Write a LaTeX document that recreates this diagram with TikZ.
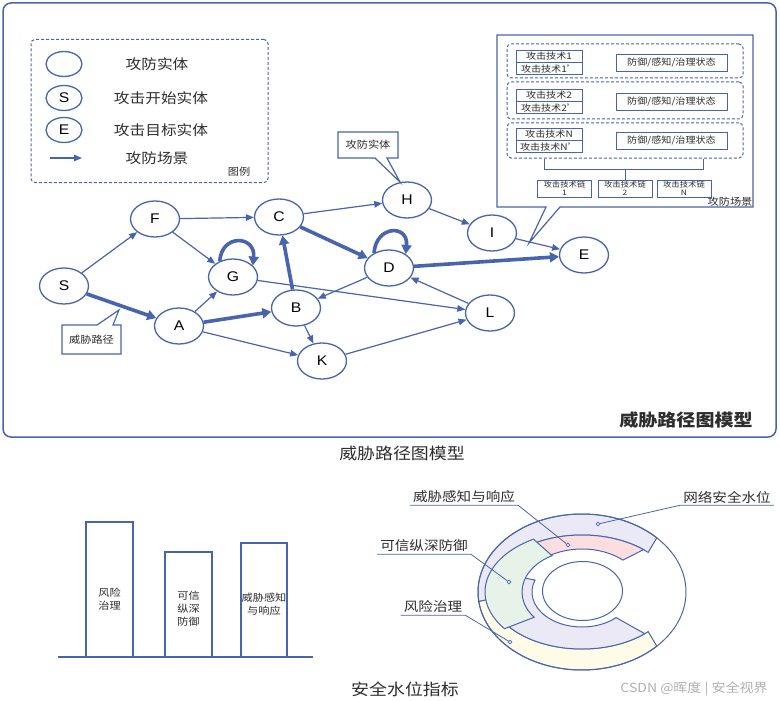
\documentclass[tikz,border=0pt]{standalone}
\usepackage{fontspec}
\setmainfont{Liberation Sans}[FakeStretch=1.12]
\newfontfamily\cjk{Noto Sans CJK SC}[FakeStretch=1.12]
\definecolor{pathblue}{RGB}{72,100,172}
\definecolor{inktext}{RGB}{45,45,45}
\definecolor{ringlav}{RGB}{236,233,246}
\definecolor{ringpink}{RGB}{252,222,224}
\definecolor{ringgreen}{RGB}{231,243,233}
\definecolor{ringyellow}{RGB}{254,251,230}
\definecolor{markgray}{RGB}{175,175,175}
\usepackage{tikz}
\usetikzlibrary{arrows.meta,positioning,shapes.geometric,calc}

\tikzset{
  entity/.style={ellipse,draw=pathblue,line width=1.3pt,fill=white,
    minimum width=49pt,minimum height=36pt,inner sep=0pt,
    font=\fontsize{14}{14}\selectfont,text=black},
  link/.style={draw=pathblue,line width=1.2pt,-{Triangle[length=8pt,width=6.5pt]}},
  threat/.style={draw=pathblue,line width=3.6pt,-{Triangle[length=9pt,width=10pt]}},
  callout/.style={draw=pathblue,line width=1.2pt,fill=white},
  dashbox/.style={draw=pathblue,line width=1pt,dash pattern=on 3pt off 2pt,rounded corners=4pt},
  cell/.style={draw=pathblue,line width=0.8pt,inner sep=0pt,text=inktext,
    font=\cjk\fontsize{9}{9}\selectfont},
  lbl/.style={font=\cjk\fontsize{14}{14}\selectfont,text=inktext},
  note/.style={font=\cjk\fontsize{10}{10}\selectfont,text=inktext},
  bar/.style={draw=pathblue,line width=1.5pt,fill=white},
  barlbl/.style={font=\cjk\fontsize{10}{13}\selectfont,text=inktext,align=center},
  ringline/.style={draw=pathblue,line width=1pt},
  ringlabel/.style={font=\cjk\fontsize{13}{13}\selectfont,text=inktext,inner xsep=3pt,inner ysep=2pt},
  leader/.style={draw=pathblue,line width=0.8pt},
  pin/.style={circle,draw=pathblue,line width=0.7pt,fill=white,inner sep=0pt,minimum size=3.6pt},
}

% band between two ellipses round (rc): fill, rx/ry outer, rx/ry inner, from, to
\newcommand{\ringband}[7]{%
  \filldraw[fill=#1,ringline] ($(rc)+(#6:#2 and #3)$)
    arc[start angle=#6,end angle=#7,x radius=#2,y radius=#3]
    -- ($(rc)+(#7:#4 and #5)$)
    arc[start angle=#7,end angle=#6,x radius=#4,y radius=#5] -- cycle;}

\begin{document}
\begin{tikzpicture}[x=1pt,y=-1pt]
  \useasboundingbox (0,0) rectangle (780,701);

  % outer frame of the graph model
  \draw[pathblue,line width=1.5pt,rounded corners=8pt] (3,3) rectangle (776,437);
  \node[font=\cjk\bfseries\fontsize{17}{17}\selectfont,text=inktext] (title) at (686,420) {威胁路径图模型};

  % legend
  \node[dashbox,minimum width=237pt,minimum height=143pt] (legend) at (149.5,111) {};
  \node[entity,minimum width=36pt,minimum height=25pt] (legent) at (64,64) {};
  \node[lbl] at (157,64) {攻防实体};
  \node[entity,minimum width=36pt,minimum height=25pt] (legS) at (64,98) {S};
  \node[lbl] at (161,98) {攻击开始实体};
  \node[entity,minimum width=36pt,minimum height=25pt] (legE) at (64,130) {E};
  \node[lbl] at (161,130) {攻击目标实体};
  \coordinate (legA1) at (50,158);
  \coordinate (legA2) at (82,158);
  \draw[link] (legA1) -- (legA2);
  \node[lbl] at (157,158) {攻防场景};
  \node[note] at (239,172) {图例};

  % entities
  \node[entity] (S) at (64,286) {S};
  \node[entity] (F) at (155,219) {F};
  \node[entity] (G) at (233,277) {G};
  \node[entity] (C) at (279,217) {C};
  \node[entity] (A) at (179,326) {A};
  \node[entity] (B) at (296,308) {B};
  \node[entity] (K) at (322,361) {K};
  \node[entity] (D) at (389,268) {D};
  \node[entity] (H) at (407,200) {H};
  \node[entity] (I) at (492,233) {I};
  \node[entity] (E) at (584,255) {E};
  \node[entity] (L) at (490,313) {L};

  % scenes
  \draw[link] (S) -- (F);
  \draw[link] (F) -- (C);
  \draw[link] (F) -- (G);
  \draw[link] (A) -- (G);
  \draw[link] (A) -- (K);
  \draw[link] (G) -- (L);
  \draw[link] (B) -- (K);
  \draw[link] (C) -- (H);
  \draw[link] (D) -- (B);
  \draw[link] (L) -- (D);
  \draw[link] (K) -- (L);
  \draw[link] (H) -- (I);
  \draw[link] (I) -- (E);
  % threat path
  \draw[threat] (S) -- (A);
  \draw[threat] (A) -- (B);
  \draw[threat] (B) -- (C);
  \draw[threat] (C) -- (D);
  \draw[threat] (D) -- (E);
  \draw[threat] (G.130) .. controls +(2,-28) and +(3,-30) .. (G.30);
  \draw[threat] (D.135) .. controls +(2,-28) and +(3,-30) .. (D.40);

  % callouts
  \draw[callout] (62,325) -- (97,325) -- (119,310) -- (113,325) -- (121,325)
    -- (121,354) -- (62,354) -- cycle;
  \node[note] (pathnote) at (91.5,339.5) {威胁路径};
  \draw[callout] (338,132) -- (398,132) -- (398,158) -- (387,158) -- (400,182)
    -- (375,158) -- (338,158) -- cycle;
  \node[note] (entnote) at (368,145) {攻防实体};

  % scene callout
  \draw[callout] (497,35) -- (753,35) -- (753,207) -- (560,207) -- (529,243)
    -- (546,207) -- (497,207) -- cycle;
  \node[dashbox,minimum width=236pt,minimum height=34pt] (row1) at (625,61) {};
  \node[dashbox,minimum width=236pt,minimum height=37pt] (row2) at (625,100.5) {};
  \node[dashbox,minimum width=236pt,minimum height=35pt] (row3) at (625,140.5) {};
  \foreach \k/\y/\n in {1/56/1,2/95/2,3/134/N}{
    \node[cell,minimum width=66pt,minimum height=12pt] (tech\k) at (549,\y) {攻击技术\n};
    \node[cell,minimum width=66pt,minimum height=12pt,below=0pt of tech\k] (techb\k) {攻击技术\n’};
    \node[cell,minimum width=111pt,minimum height=17pt] (state\k) at (671.5,\y+6.5) {防御/感知/治理状态};
  }
  \foreach \k/\x/\n in {1/564.5/1,2/625/2,3/684/N}
    \node[cell,font=\cjk\fontsize{7.5}{8}\selectfont,align=center,
      minimum width=54pt,minimum height=17pt] (chain\k) at (\x,188.5) {攻击技术链\\\n};
  \draw[pathblue,line width=0.8pt] ([xshift=38pt]row3.south west) -- ++(0,11)
    -| ([xshift=-40pt]row3.south east);
  \draw[pathblue,line width=0.8pt] (chain2.north) -- ++(0,-11);
  \node[note] (scenenote) at (730,202) {攻防场景};

  \node[font=\cjk\fontsize{16}{16}\selectfont,text=inktext] (capgraph) at (402,453) {威胁路径图模型};

  % water level bars
  \draw[bar] (86,657) rectangle (133,522);
  \draw[bar] (165,657) rectangle (212,552);
  \draw[bar] (241,657) rectangle (287,543);
  \draw[pathblue,line width=1.3pt] (58,657) -- (313,657);
  \node[barlbl] (riskbar) at (109.5,599) {风险\\治理};
  \node[barlbl] (trustbar) at (188.5,609) {可信\\纵深\\防御};
  \node[barlbl] (sensebar) at (264,604) {威胁感知\\与响应};

  % water level ring
  \coordinate (rc) at (582,592);
  \ringband{ringlav}{104}{78}{92}{57}{-44}{-187}
  \ringband{ringyellow}{104}{78}{92}{57}{-187}{-316}
  \ringband{ringlav}{92}{57}{50}{35}{-160}{-313}
  \ringband{ringpink}{92}{57}{61}{43}{-48}{-140}
  \ringband{ringgreen}{97}{61}{60}{42}{-120}{-217}
  \draw[ringline] (rc) ellipse[x radius=104,y radius=78];
  \draw[ringline] (582.5,591) ellipse[x radius=40,y radius=29.5];

  \node[pin] (pnet) at (598,524) {};
  \node[pin] (psense) at (568,545) {};
  \node[pin] (ptrust) at (509,582) {};
  \node[pin] (prisk) at (510,642) {};
  \node[ringlabel] (lnet) at (727,497) {网络安全水位};
  \node[ringlabel] (lsense) at (464,497) {威胁感知与响应};
  \node[ringlabel] (ltrust) at (424,546) {可信纵深防御};
  \node[ringlabel] (lrisk) at (433,607) {风险治理};
  \draw[leader] (pnet) -- (lnet.south west) -- (lnet.south east);
  \draw[leader] (psense) -- (lsense.south east) -- (lsense.south west);
  \draw[leader] (ptrust) -- (ltrust.south east) -- (ltrust.south west);
  \draw[leader] (prisk) -- (lrisk.south east) -- (lrisk.south west);

  \node[font=\cjk\fontsize{16}{16}\selectfont,text=inktext] (capwater) at (405,689) {安全水位指标};
  \node[font=\cjk\fontsize{12.5}{12.5}\selectfont,text=markgray] (mark) at (694,689) {CSDN @晖度 | 安全视界};
\end{tikzpicture}
\end{document}
